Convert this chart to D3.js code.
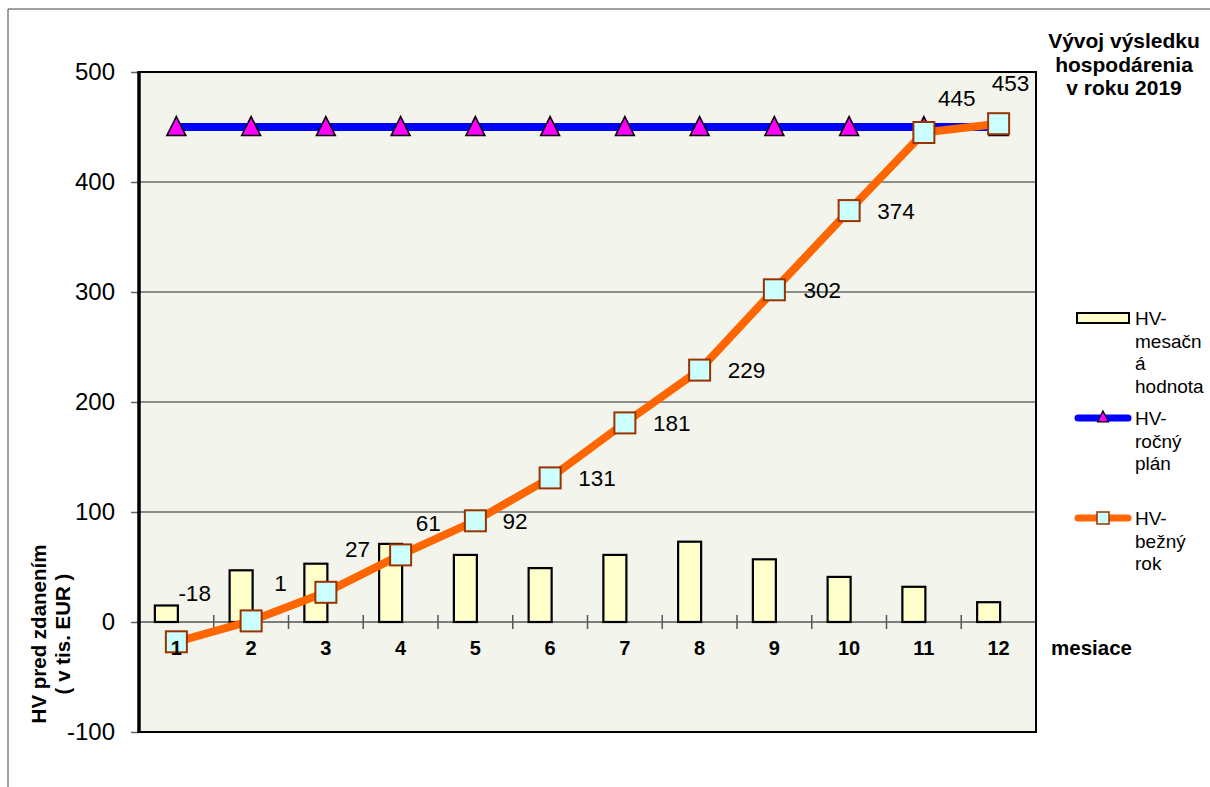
<!DOCTYPE html>
<html><head><meta charset="utf-8">
<script src="https://cdn.jsdelivr.net/npm/d3@7"></script>
<style>body{margin:0;background:#fff}svg{display:block;font-family:"Liberation Sans",Arial,sans-serif}</style>
</head><body><svg id="c" width="1210" height="787"></svg>
<script>
const months = ["1","2","3","4","5","6","7","8","9","10","11","12"];
const monthly = [15, 47, 53, 71, 61, 49, 61, 73, 57, 41, 32, 18];
const plan = [450, 450, 450, 450, 450, 450, 450, 450, 450, 450, 450, 450];
const cumulative = [-18, 1, 27, 61, 92, 131, 181, 229, 302, 374, 445, 453];
const yTicks = [-100, 0, 100, 200, 300, 400, 500];
const titleLines = ["Vývoj výsledku", "hospodárenia", "v roku 2019"];
const yTitleLines = ["HV pred zdanením", "( v tis. EUR )"];
const xTitle = "mesiace";
const legendItems = [
  {type: "bar", lines: ["HV-", "mesačn", "á", "hodnota"]},
  {type: "plan", lines: ["HV-", "ročný", "plán"]},
  {type: "cum", lines: ["HV-", "bežný", "rok"]}
];

const svg = d3.select("#c");
const L = 139, R = 1036, T = 72, B = 732;
const x = d3.scaleBand().domain(months).range([L, R]).padding(0);
const y = d3.scaleLinear().domain([-100, 500]).range([B, T]);
const cx = m => x(m) + x.bandwidth() / 2;

// outer frame
svg.append("path").attr("d", `M8,787 L8,9 L1210,9`).attr("fill", "none").attr("stroke", "#444").attr("stroke-width", 1);

// plot background
svg.append("rect").attr("x", L).attr("y", T).attr("width", R - L).attr("height", B - T).attr("fill", "#F3F5EC");

// gridlines
svg.append("g").selectAll("line").data(yTicks.filter(t => t > 0 && t < 500)).join("line")
  .attr("x1", L).attr("x2", R).attr("y1", d => y(d)).attr("y2", d => y(d))
  .attr("stroke", "#6a6a6a").attr("stroke-width", 1.5);

// y axis
const yAxis = d3.axisLeft(y).tickValues(yTicks).tickSize(8).tickPadding(16).tickFormat(d => String(d));
const gy = svg.append("g").attr("transform", `translate(${L},0)`).call(yAxis);
gy.select(".domain").remove();
gy.selectAll(".tick line").attr("stroke", "#666").attr("stroke-width", 1.5);
gy.selectAll(".tick text").attr("font-size", 24).attr("fill", "#000").attr("font-family", "Liberation Sans, Arial, sans-serif");

// zero line + x ticks at band boundaries
svg.append("line").attr("x1", L).attr("x2", R).attr("y1", y(0)).attr("y2", y(0)).attr("stroke", "#555").attr("stroke-width", 1.5);
svg.append("g").selectAll("line").data(months.slice(1)).join("line")
  .attr("x1", d => x(d)).attr("x2", d => x(d)).attr("y1", y(0) - 7).attr("y2", y(0) + 7)
  .attr("stroke", "#555").attr("stroke-width", 1.5);

// bars
const barW = 23, barOff = -10;
svg.append("g").selectAll("rect").data(monthly).join("rect")
  .attr("x", (d, i) => cx(months[i]) + barOff - barW / 2)
  .attr("y", d => y(Math.max(0, d)))
  .attr("width", barW)
  .attr("height", d => Math.abs(y(d) - y(0)))
  .attr("fill", "#FFFFCC").attr("stroke", "#000").attr("stroke-width", 2.2);

// plot frame
svg.append("rect").attr("x", L).attr("y", T).attr("width", R - L).attr("height", B - T)
  .attr("fill", "none").attr("stroke", "#000").attr("stroke-width", 2);
svg.append("line").attr("x1", L).attr("x2", L).attr("y1", T - 1).attr("y2", B + 1).attr("stroke", "#000").attr("stroke-width", 3.5);

// plan line
const line = d3.line();
svg.append("path").attr("d", line(plan.map((v, i) => [cx(months[i]), y(v)])))
  .attr("fill", "none").attr("stroke", "#0000FF").attr("stroke-width", 8);
const tri = (px, py, s) => `M${px},${py - s * 0.55} L${px + s / 2},${py + s * 0.45} L${px - s / 2},${py + s * 0.45} Z`;
svg.append("g").selectAll("path").data(plan).join("path")
  .attr("d", (v, i) => tri(cx(months[i]), y(v), 19))
  .attr("fill", "#FF00FF").attr("stroke", "#000").attr("stroke-width", 1.5).attr("stroke-linejoin", "miter");

// cumulative line
svg.append("path").attr("d", line(cumulative.map((v, i) => [cx(months[i]), y(v)])))
  .attr("fill", "none").attr("stroke", "#FF6600").attr("stroke-width", 8).attr("stroke-linejoin", "round");
const sq = 21;
svg.append("g").selectAll("rect").data(cumulative).join("rect")
  .attr("x", (v, i) => cx(months[i]) - sq / 2).attr("y", v => y(v) - sq / 2)
  .attr("width", sq).attr("height", sq)
  .attr("fill", "#CCFFFF").attr("stroke", "#993300").attr("stroke-width", 2);

// data labels (label layout offsets relative to each point)
const labelPlacement = [[2,-49],[23,-38],[19,-43],[15,-32],[27,0],[28,0],[28,0],[28,0],[29,0],[28,0],[14,-35],[-7,-41]];
svg.append("g").selectAll("text").data(cumulative).join("text")
  .attr("x", (v, i) => cx(months[i]) + labelPlacement[i][0])
  .attr("y", (v, i) => y(v) + labelPlacement[i][1])
  .attr("dy", "0.36em")
  .attr("font-size", 22.5).attr("fill", "#000")
  .text(v => v);

// category labels
svg.append("g").selectAll("text").data(months).join("text")
  .attr("x", d => cx(d)).attr("y", 655).attr("text-anchor", "middle")
  .attr("font-size", 20).attr("font-weight", "bold").text(d => d);

// x title
svg.append("text").attr("x", 1051).attr("y", 655).attr("font-size", 20.5).attr("font-weight", "bold").text(xTitle);

// y title
const yt = svg.append("text").attr("transform", "translate(0,634) rotate(-90)")
  .attr("text-anchor", "middle").attr("font-size", 20.5).attr("font-weight", "bold");
yTitleLines.forEach((t, i) => yt.append("tspan").attr("x", 0).attr("y", 46 + i * 24).text(t));

// title
const tt = svg.append("text").attr("text-anchor", "middle").attr("font-size", 21).attr("font-weight", "bold");
titleLines.forEach((t, i) => tt.append("tspan").attr("x", 1124).attr("y", 48 + i * 23.5).text(t));

// legend
const legY = [318, 418, 518];
legendItems.forEach((it, k) => {
  const g = svg.append("g");
  const ly = legY[k];
  if (it.type === "bar") {
    g.append("rect").attr("x", 1077).attr("y", ly - 5).attr("width", 52).attr("height", 10)
      .attr("fill", "#FFFFCC").attr("stroke", "#000").attr("stroke-width", 2);
  } else if (it.type === "plan") {
    g.append("line").attr("x1", 1078).attr("x2", 1128).attr("y1", ly).attr("y2", ly)
      .attr("stroke", "#0000FF").attr("stroke-width", 7).attr("stroke-linecap", "round");
    g.append("path").attr("d", tri(1103, ly - 1, 11)).attr("fill", "#FF00FF").attr("stroke", "#000").attr("stroke-width", 1.2);
  } else {
    g.append("line").attr("x1", 1078).attr("x2", 1128).attr("y1", ly).attr("y2", ly)
      .attr("stroke", "#FF6600").attr("stroke-width", 7).attr("stroke-linecap", "round");
    g.append("rect").attr("x", 1097).attr("y", ly - 6).attr("width", 12).attr("height", 12)
      .attr("fill", "#CCFFFF").attr("stroke", "#993300").attr("stroke-width", 1.5);
  }
  const t = g.append("text").attr("font-size", 19);
  it.lines.forEach((s, j) => t.append("tspan").attr("x", 1135).attr("y", ly + 7 + j * 22.5).text(s));
});
</script></body></html>
